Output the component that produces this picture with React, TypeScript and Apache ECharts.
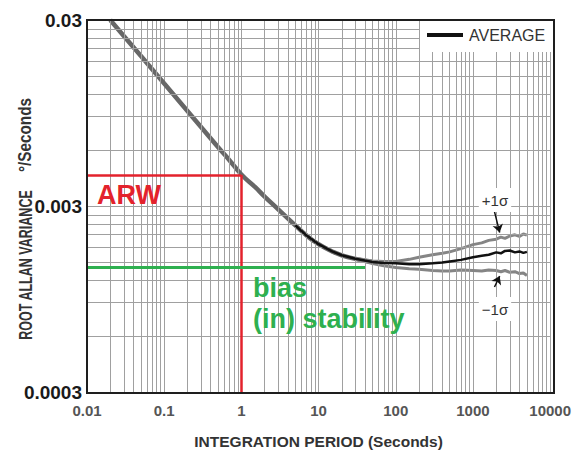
import React, { useEffect, useRef } from "react";
import * as echarts from "echarts";

// ---- data ----
const xTicks = [0.01, 0.1, 1, 10, 100, 1000, 10000];
const yTickLabels = ["0.0003", "0.003", "0.03"];
const Y_BASE = 0.0003;

// common (ARW) part of the curve, grey thick
const tauMain = [0.02, 0.03, 0.05, 0.1, 0.2, 0.3, 0.5, 0.7, 1, 1.5, 2, 3, 5, 7, 10, 15, 20, 30, 50];
const valMain = [0.03, 0.0246, 0.0192, 0.01366, 0.00973, 0.00798, 0.00621, 0.00529, 0.00443, 0.0038, 0.00337, 0.00288, 0.00236, 0.00208, 0.00187, 0.00171, 0.00163, 0.00156, 0.0015];

// average (black)
const tauAvg = [5, 7, 10, 15, 20, 30, 50, 70, 100, 150, 200, 300, 400, 500, 700, 1000, 1300, 1600, 2000, 2300, 2600, 3000, 3500, 4000, 4500, 5000];
const valAvg = [0.00236, 0.00208, 0.00187, 0.00171, 0.00163, 0.00156, 0.0015, 0.00148, 0.001475, 0.00146, 0.001457, 0.001475, 0.00149, 0.00151, 0.00154, 0.00159, 0.00162, 0.00164, 0.00169, 0.00167, 0.00172, 0.00173, 0.00169, 0.00171, 0.00168, 0.0017];

// +/- 1 sigma (grey)
const tauSigma = [30, 50, 70, 100, 150, 200, 300, 400, 500, 700, 1000, 1300, 1600, 2000, 2300, 2600, 3000, 3500, 4000, 4500, 5000];
const valPlus = [0.00157, 0.00152, 0.00151, 0.00151, 0.00155, 0.00159, 0.00164, 0.00167, 0.0017, 0.00177, 0.00186, 0.0019, 0.00196, 0.00199, 0.00204, 0.00201, 0.00207, 0.0021, 0.00206, 0.00212, 0.00209];
const valMinus = [0.00155, 0.00147, 0.00143, 0.0014, 0.00138, 0.00137, 0.00135, 0.00134, 0.00134, 0.00136, 0.00135, 0.00134, 0.00136, 0.00135, 0.00133, 0.00135, 0.00132, 0.00133, 0.0013, 0.00131, 0.00127];

// annotation levels
const ARW_TAU = 1;
const ARW_LEVEL = 0.0044;
const BIAS_LEVEL = 0.0014;
const BIAS_END_TAU = 40;
const plusArrow = [[1900, 0.0028], [2220, 0.00216]];
const minusArrow = [[1900, 0.0011], [2220, 0.00126]];

const FONT = "'Liberation Sans', Arial, sans-serif";
const RED = "#e3222c";
const GREEN = "#2eb04f";

const ty = (v: number) => Math.log10(v / Y_BASE);
const pairs = (t: number[], v: number[]) => t.map((x, i) => [x, ty(v[i])]);

export default function App() {
  const ref = useRef<HTMLDivElement>(null);
  useEffect(() => {
    if (!ref.current) return;
    const chart = echarts.init(ref.current, undefined, { renderer: "svg" });

    const gridData: any[] = [];
    for (let d = -2; d <= 3; d++) {
      for (let k = 2; k <= 9; k++) gridData.push({ xAxis: k * Math.pow(10, d) });
    }
    for (let d = 0; d <= 1; d++) {
      for (let k = 2; k <= 9; k++) gridData.push({ yAxis: ty(Y_BASE * k * Math.pow(10, d)) });
    }

    const option: any = {
      animation: false,
      grid: { left: 87, right: 20, top: 20, bottom: 61 },
      legend: {
        data: [{ name: "AVERAGE", icon: "rect" }],
        left: 427,
        top: 27,
        padding: 0,
        z: 70,
        itemWidth: 36,
        itemHeight: 4,
        itemGap: 5,
        selectedMode: false,
        textStyle: { fontSize: 16, color: "#333", fontFamily: FONT, padding: [0, 0, 0, 1] },
      },
      xAxis: {
        type: "log",
        logBase: 10,
        min: xTicks[0],
        max: xTicks[xTicks.length - 1],
        name: "INTEGRATION PERIOD (Seconds)",
        nameLocation: "middle",
        nameGap: 41,
        nameTextStyle: { fontSize: 15.5, fontWeight: "bold", color: "#333", fontFamily: FONT },
        axisLine: { show: false },
        axisTick: { show: false },
        axisLabel: {
          fontSize: 15,
          fontWeight: "bold",
          color: "#555",
          fontFamily: FONT,
          margin: 11,
          formatter: (v: number) => String(+v.toPrecision(6)),
        },
        splitLine: { show: true, lineStyle: { color: "#a0a0a0", width: 1 } },
      },
      yAxis: {
        type: "value",
        min: 0,
        max: 2,
        interval: 1,
        axisLine: { show: false },
        axisTick: { show: false },
        axisLabel: {
          fontSize: 19,
          fontWeight: "bold",
          color: "#1a1a1a",
          fontFamily: FONT,
          margin: 5,
          formatter: (v: number) => yTickLabels[Math.round(v)] ?? "",
        },
        splitLine: { show: true, lineStyle: { color: "#a0a0a0", width: 1 } },
      },
      series: [
        {
          name: "grid",
          type: "line",
          data: [],
          z: 1,
          silent: true,
          markLine: {
            silent: true,
            symbol: ["none", "none"],
            animation: false,
            label: { show: false },
            lineStyle: { color: "#a0a0a0", width: 1, type: "solid" },
            data: gridData,
          },
        },
        {
          name: "levels",
          type: "line",
          data: [],
          z: 2,
          silent: true,
          markLine: {
            silent: true,
            symbol: ["none", "none"],
            animation: false,
            label: { show: false },
            data: [
              [
                { coord: [xTicks[0], ty(ARW_LEVEL)], lineStyle: { color: RED, width: 2.5, type: "solid" } },
                { coord: [ARW_TAU, ty(ARW_LEVEL)] },
              ],
              [
                { coord: [ARW_TAU, ty(ARW_LEVEL)], lineStyle: { color: RED, width: 2.5, type: "solid" } },
                { coord: [ARW_TAU, 0] },
              ],
              [
                { coord: [xTicks[0], ty(BIAS_LEVEL)], lineStyle: { color: GREEN, width: 3, type: "solid" } },
                { coord: [BIAS_END_TAU, ty(BIAS_LEVEL)] },
              ],
            ],
          },
        },
        {
          name: "main",
          type: "line",
          data: pairs(tauMain, valMain),
          showSymbol: false,
          smooth: true,
          z: 3,
          lineStyle: { color: "#676767", width: 4.5 },
        },
        {
          name: "+1σ",
          type: "line",
          data: pairs(tauSigma, valPlus),
          showSymbol: false,
          z: 4,
          lineStyle: { color: "#858585", width: 3 },
          markLine: {
            silent: true,
            symbol: ["none", "arrow"],
            symbolSize: 8,
            animation: false,
            label: { show: false },
            lineStyle: { color: "#111", width: 1.5, type: "solid" },
            data: [[{ coord: [plusArrow[0][0], ty(plusArrow[0][1])] }, { coord: [plusArrow[1][0], ty(plusArrow[1][1])] }]],
          },
        },
        {
          name: "−1σ",
          type: "line",
          data: pairs(tauSigma, valMinus),
          showSymbol: false,
          z: 4,
          lineStyle: { color: "#858585", width: 3 },
          markLine: {
            silent: true,
            symbol: ["none", "arrow"],
            symbolSize: 8,
            animation: false,
            label: { show: false },
            lineStyle: { color: "#111", width: 1.5, type: "solid" },
            data: [[{ coord: [minusArrow[0][0], ty(minusArrow[0][1])] }, { coord: [minusArrow[1][0], ty(minusArrow[1][1])] }]],
          },
        },
        {
          name: "AVERAGE",
          type: "line",
          data: pairs(tauAvg, valAvg),
          showSymbol: false,
          z: 5,
          itemStyle: { color: "#111" },
          lineStyle: { color: "#111", width: 2.5 },
        },
      ],
      graphic: [
        {
          type: "rect",
          z: 60,
          silent: true,
          shape: { x: 420, y: 20, width: 134, height: 32 },
          style: { fill: "#fff" },
        },
        {
          type: "rect",
          z: 100,
          silent: true,
          shape: { x: 87, y: 20, width: 467, height: 373 },
          style: { fill: "none", stroke: "#1e1e1e", lineWidth: 2 },
        },
        {
          type: "text",
          z: 50,
          x: 97,
          y: 195,
          style: { text: "ARW", fill: RED, fontSize: 27, fontWeight: "bold", fontFamily: FONT, align: "left", verticalAlign: "middle" },
        },
        {
          type: "text",
          z: 50,
          x: 253,
          y: 288,
          style: { text: "bias", fill: GREEN, fontSize: 27, fontWeight: "bold", fontFamily: FONT, align: "left", verticalAlign: "middle" },
        },
        {
          type: "text",
          z: 50,
          x: 253,
          y: 319,
          style: { text: "(in) stability", fill: GREEN, fontSize: 27, fontWeight: "bold", fontFamily: FONT, align: "left", verticalAlign: "middle" },
        },
        {
          type: "text",
          z: 50,
          x: 495,
          y: 200,
          style: { text: "+1σ", fill: "#333", fontSize: 15, fontFamily: FONT, align: "center", verticalAlign: "middle", backgroundColor: "#fff", padding: [5, 3, 4, 3] },
        },
        {
          type: "text",
          z: 50,
          x: 495,
          y: 309,
          style: { text: "−1σ", fill: "#333", fontSize: 15, fontFamily: FONT, align: "center", verticalAlign: "middle", backgroundColor: "#fff", padding: [4, 3, 5, 3] },
        },
        {
          type: "text",
          z: 50,
          x: 25,
          y: 265,
          rotation: Math.PI / 2,
          scaleX: 0.66,
          style: { text: "ROOT ALLAN VARIANCE", fill: "#333", fontSize: 19, fontWeight: "bold", fontFamily: FONT, align: "center", verticalAlign: "middle" },
        },
        {
          type: "text",
          z: 50,
          x: 25,
          y: 135,
          rotation: Math.PI / 2,
          scaleX: 0.85,
          style: { text: "°/Seconds", fill: "#333", fontSize: 18, fontWeight: "bold", fontFamily: FONT, align: "center", verticalAlign: "middle" },
        },
      ],
    };
    chart.setOption(option);
    return () => chart.dispose();
  }, []);
  return <div ref={ref} style={{ position: "absolute", left: 0, top: 0, width: 574, height: 454, background: "#fff" }} />;
}
